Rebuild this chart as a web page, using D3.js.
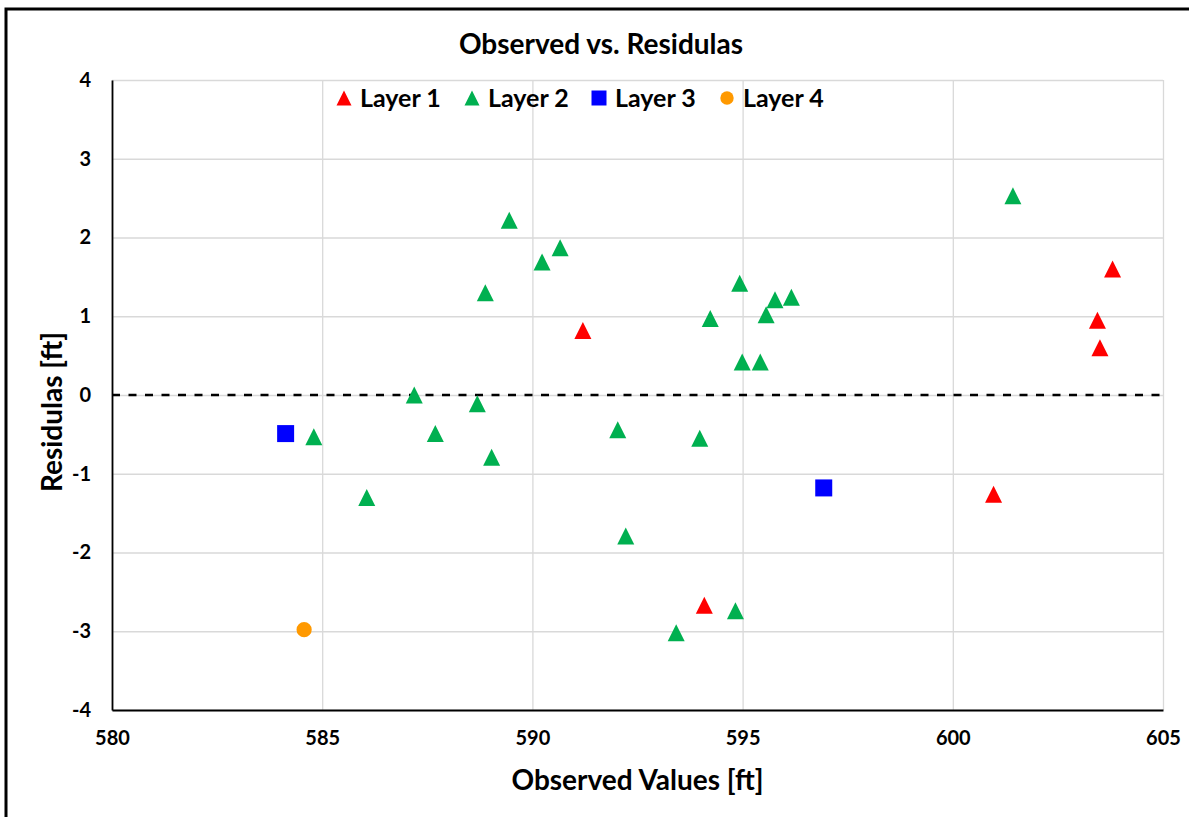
<!DOCTYPE html>
<html>
<head>
  <meta charset="utf-8">
  <title>Observed vs. Residulas</title>
  <script src="https://cdn.jsdelivr.net/npm/d3@7/dist/d3.min.js"></script>
  <style>
    body { margin: 0; background: #fff; }
    text { font-family: Lato, 'Open Sans', sans-serif; font-weight: bold; fill: #000; }
    .grid line { stroke: #d9d9d9; stroke-width: 1.3; }
    .tick text { font-size: 20px; }
  </style>
</head>
<body>
  <svg id="chart"></svg>
  <script>
    // values
    var layer1X = [591.2, 594.09, 600.97, 603.44, 603.5, 603.8];
    var layer1Y = [0.82, -2.67, -1.26, 0.95, 0.6, 1.6];

    var layer2X = [589.45, 590.66, 590.23, 588.88, 587.19, 588.69, 584.8, 587.69, 589.03, 592.03, 586.06,
      594.93, 595.77, 596.16, 595.56, 594.23, 594.99, 595.42, 593.98, 592.22, 594.83, 593.42, 601.43];
    var layer2Y = [2.22, 1.87, 1.69, 1.3, 0.0, -0.11, -0.53, -0.49, -0.79, -0.44, -1.3,
      1.42, 1.21, 1.24, 1.02, 0.97, 0.42, 0.42, -0.55, -1.79, -2.74, -3.02, 2.53];

    var layer3X = [584.13, 596.93];
    var layer3Y = [-0.49, -1.18];

    var layer4X = [584.57];
    var layer4Y = [-2.98];

    var xTicks = [580, 585, 590, 595, 600, 605];
    var yTicks = [-4, -3, -2, -1, 0, 1, 2, 3, 4];

    var layerNames = ['Layer 1', 'Layer 2', 'Layer 3', 'Layer 4'];
    var layerColors = ['#ff0000', '#00b050', '#0000ff', '#ff9900'];
    var layerShapes = ['triangle', 'triangle', 'square', 'circle'];

    var series = [
      [layer1X, layer1Y], [layer2X, layer2Y], [layer3X, layer3Y], [layer4X, layer4Y]
    ].map(function (s, i) {
      return {
        name: layerNames[i], color: layerColors[i], shape: layerShapes[i],
        points: s[0].map(function (x, j) { return [x, s[1][j]]; })
      };
    });

    var W = 1189, H = 817;
    var margin = { top: 80, right: 26, bottom: 107, left: 112 };
    var width = W - margin.left - margin.right,
      height = H - margin.top - margin.bottom;

    var x = d3.scaleLinear().domain([580, 605]).range([0, width]);
    var y = d3.scaleLinear().domain([-4, 4]).range([height, 0]);

    function markerPath(shape, s) {
      var h = s / 2;
      if (shape === 'triangle') return 'M0,' + (-h) + 'L' + h + ',' + h + 'L' + (-h) + ',' + h + 'Z';
      if (shape === 'square') return 'M' + (-h) + ',' + (-h) + 'h' + s + 'v' + s + 'h' + (-s) + 'Z';
      return d3.symbol(d3.symbolCircle, Math.PI * h * h * 0.8)();
    }

    var root = d3.select('#chart').attr('width', W).attr('height', H);

    // outer chart frame (runs past the right and bottom edge)
    root.append('rect')
      .attr('x', 6).attr('y', 9).attr('width', 1250).attr('height', 900)
      .attr('fill', 'none').attr('stroke', '#000').attr('stroke-width', 3);

    var svg = root.append('g')
      .attr('transform', 'translate(' + margin.left + ',' + margin.top + ')');

    // gridlines
    svg.append('g').attr('class', 'grid')
      .attr('transform', 'translate(0,' + height + ')')
      .call(d3.axisBottom(x).tickValues(xTicks).tickSize(-height).tickFormat(''))
      .call(g => g.select('.domain').remove());
    svg.append('g').attr('class', 'grid')
      .call(d3.axisLeft(y).tickValues(yTicks).tickSize(-width).tickFormat(''))
      .call(g => g.select('.domain').remove());

    // axes (plain hyphen for negatives, like the original)
    var fmt = d => String(d);
    var xAxis = svg.append('g')
      .attr('transform', 'translate(0,' + height + ')')
      .call(d3.axisBottom(x).tickValues(xTicks).tickSize(0).tickPadding(21).tickFormat(fmt));
    xAxis.select('.domain').attr('stroke', '#000').attr('stroke-width', 1.8);

    var yAxis = svg.append('g')
      .call(d3.axisLeft(y).tickValues(yTicks).tickSize(0).tickPadding(21).tickFormat(fmt));
    yAxis.select('.domain').attr('stroke', '#000').attr('stroke-width', 1.8);

    // zero reference line
    svg.append('line')
      .attr('x1', 0).attr('x2', width - 3)
      .attr('y1', y(0)).attr('y2', y(0))
      .attr('stroke', '#000').attr('stroke-width', 2.5)
      .attr('stroke-dasharray', '8,8.5');

    // markers
    series.forEach(function (s) {
      svg.append('g').selectAll('path')
        .data(s.points)
        .enter()
        .append('path')
        .attr('transform', d => 'translate(' + x(d[0]) + ',' + y(d[1]) + ')')
        .attr('d', markerPath(s.shape, 17))
        .attr('fill', s.color);
    });

    // titles
    root.append('text')
      .attr('x', 601).attr('y', 54)
      .attr('text-anchor', 'middle')
      .style('font-size', '28px')
      .text('Observed vs. Residulas');

    root.append('text')
      .attr('x', margin.left + width / 2).attr('y', 790)
      .attr('text-anchor', 'middle')
      .style('font-size', '28px')
      .text('Observed Values [ft]');

    root.append('text')
      .attr('transform', 'translate(62,412) rotate(-90)')
      .attr('text-anchor', 'middle')
      .style('font-size', '28px')
      .text('Residulas [ft]');

    // legend
    var legendX = [344, 472, 599, 727];
    var legend = root.append('g');
    series.forEach(function (s, i) {
      var g = legend.append('g').attr('transform', 'translate(' + legendX[i] + ',98)');
      g.append('path').attr('d', markerPath(s.shape, 15)).attr('fill', s.color);
      g.append('text').attr('x', 16).attr('y', 9).style('font-size', '25px').text(s.name);
    });
  </script>
</body>
</html>
